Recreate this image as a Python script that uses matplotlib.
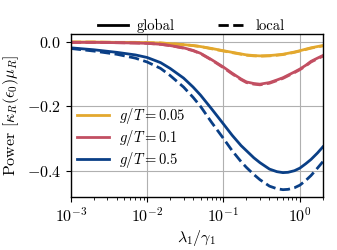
import matplotlib
matplotlib.use("Agg")
import matplotlib.pyplot as plt
from matplotlib.lines import Line2D

plt.rcParams['font.family'] = 'serif'
plt.rcParams['font.serif'] = ['cmr10']
plt.rcParams['mathtext.fontset'] = 'cm'
plt.rcParams['axes.formatter.use_mathtext'] = True
plt.rcParams['font.size'] = 11.5

# lambda_1 / gamma_1
lam = [1e-3, 2e-3, 4e-3, 7e-3, 1e-2, 1.5e-2, 2e-2, 3e-2, 4e-2, 5e-2, 7e-2,
       0.1, 0.13, 0.17, 0.2, 0.25, 0.3, 0.4, 0.5, 0.6, 0.7, 0.85, 1.0, 1.2, 1.4, 1.7, 2.0]

# g/T = 0.05
p005_global = [0.000, 0.000, -0.001, -0.001, -0.002, -0.003, -0.005, -0.008, -0.011, -0.014, -0.020,
               -0.027, -0.032, -0.037, -0.040, -0.042, -0.043, -0.042, -0.040, -0.038, -0.035,
               -0.031, -0.027, -0.022, -0.018, -0.014, -0.011]
p005_local = [0.000, 0.000, -0.001, -0.001, -0.002, -0.003, -0.005, -0.008, -0.011, -0.014, -0.021,
              -0.028, -0.033, -0.038, -0.041, -0.043, -0.044, -0.043, -0.041, -0.039, -0.036,
              -0.032, -0.028, -0.023, -0.019, -0.015, -0.012]
# g/T = 0.1
p01_global = [-0.001, -0.001, -0.002, -0.003, -0.004, -0.007, -0.011, -0.018, -0.026, -0.035, -0.055,
              -0.078, -0.097, -0.115, -0.124, -0.129, -0.131, -0.126, -0.118, -0.111, -0.103,
              -0.093, -0.084, -0.072, -0.060, -0.050, -0.042]
p01_local = [-0.001, -0.001, -0.002, -0.003, -0.004, -0.007, -0.011, -0.019, -0.027, -0.036, -0.056,
             -0.080, -0.099, -0.117, -0.126, -0.131, -0.133, -0.128, -0.120, -0.113, -0.105,
             -0.095, -0.086, -0.074, -0.062, -0.052, -0.044]
# g/T = 0.5
p05_global = [-0.018, -0.024, -0.032, -0.040, -0.048, -0.064, -0.082, -0.112, -0.140, -0.165, -0.208,
              -0.255, -0.290, -0.322, -0.338, -0.360, -0.375, -0.395, -0.403, -0.406, -0.405,
              -0.400, -0.392, -0.378, -0.365, -0.345, -0.326]
p05_local = [-0.020, -0.028, -0.038, -0.050, -0.062, -0.082, -0.104, -0.140, -0.172, -0.200, -0.250,
             -0.300, -0.338, -0.372, -0.390, -0.412, -0.428, -0.448, -0.456, -0.459, -0.458,
             -0.453, -0.445, -0.430, -0.415, -0.392, -0.372]

labels = [r'$g/T = 0.05$', r'$g/T = 0.1$', r'$g/T = 0.5$']
colors = ['#E3A82E', '#C24F62', '#0A3F86']

fig = plt.figure(figsize=(3.37, 2.5), dpi=100)
ax = fig.add_axes([0.21, 0.213, 0.748, 0.651])

series = [(p005_global, p005_local), (p01_global, p01_local), (p05_global, p05_local)]
handles = []
for (g, l), c, lab in zip(series, colors, labels):
    h, = ax.plot(lam, g, color=c, lw=2, label=lab)
    ax.plot(lam, l, color=c, lw=2, ls='--')
    handles.append(h)

ax.set_xscale('log')
ax.set_xlim(1e-3, 2)
ax.set_ylim(-0.481, 0.025)
ax.set_yticks([0.0, -0.2, -0.4])
ax.grid(True, color='#b0b0b0', lw=0.8)
ax.set_xlabel(r'$\lambda_1/\gamma_1$', labelpad=2)
ax.set_ylabel(r'Power $[\kappa_R(\epsilon_0)\mu_R]$')
for s in ax.spines.values():
    s.set_linewidth(1.0)

leg1 = ax.legend(handles=handles, loc='center left', bbox_to_anchor=(0.0, 0.36),
                 frameon=False, handlelength=2.2, labelspacing=0.15, fontsize=10.5,
                 borderaxespad=0.0, handletextpad=0.7)
ax.add_artist(leg1)

style_handles = [Line2D([], [], color='black', lw=2, ls='-'),
                 Line2D([], [], color='black', lw=2, ls='--')]
ax.legend(handles=style_handles, labels=['global', 'local'], loc='center',
          bbox_to_anchor=(0.48, 1.05), ncol=2, frameon=False, handlelength=2.0,
          columnspacing=3.0, borderaxespad=0.0, fontsize=10.5, handletextpad=0.6)

fig.savefig('out.png', dpi=100)
